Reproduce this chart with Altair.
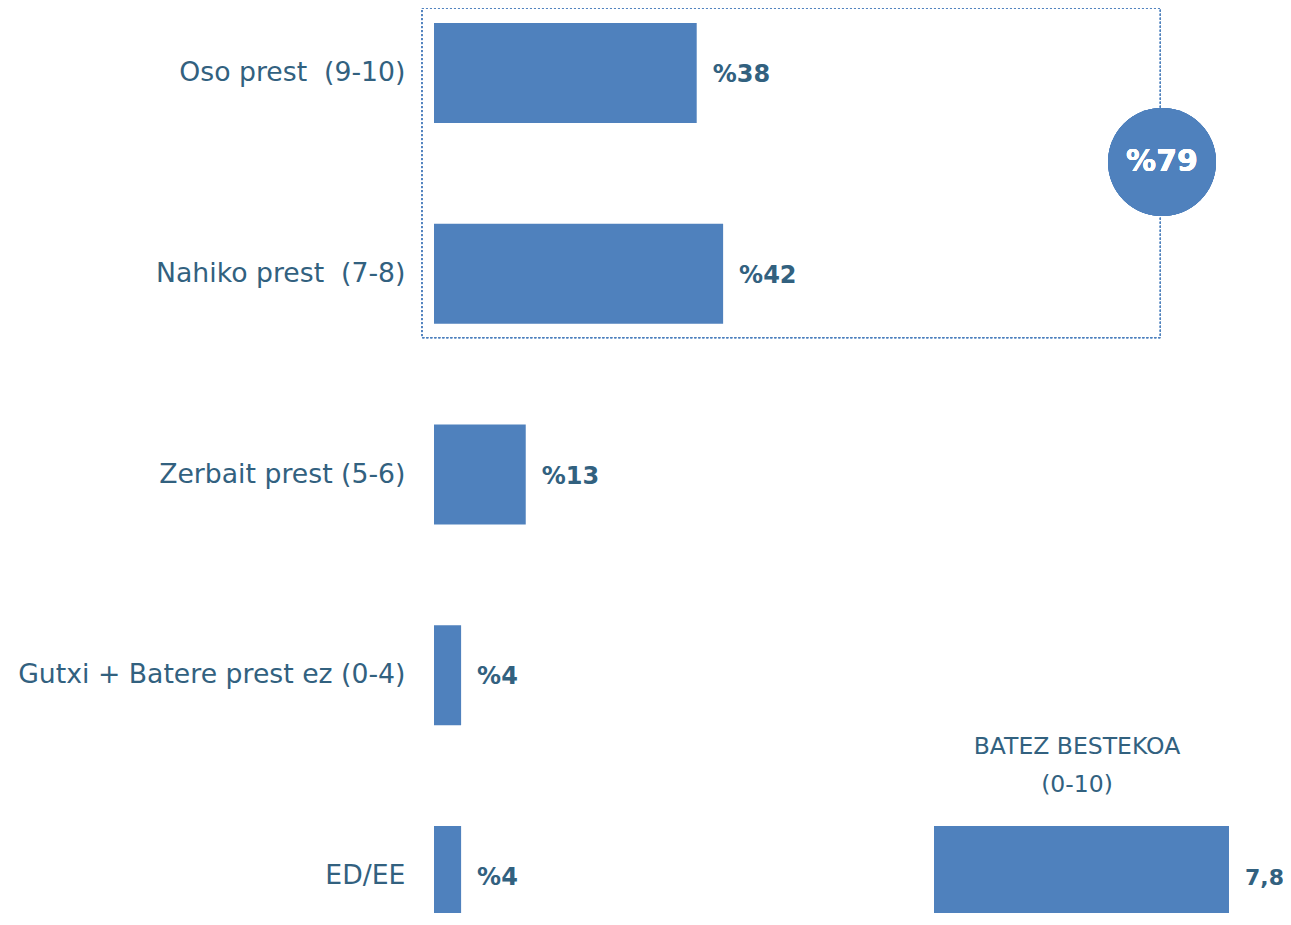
import altair as alt
import pandas as pd

# ---- data ----
categories = ["Oso prest\u00a0 (9-10)", "Nahiko prest\u00a0 (7-8)", "Zerbait prest (5-6)",
              "Gutxi + Batere prest ez (0-4)", "ED/EE"]
values = [37.8, 41.6, 13.2, 3.9, 3.9]
value_labels = ["%38", "%42", "%13", "%4", "%4"]
group_categories = ["Oso prest\u00a0 (9-10)", "Nahiko prest\u00a0 (7-8)"]
group_label = "%79"
mean_category = "ED/EE"
mean_value = [7.8]
mean_labels = ["7,8"]
mean_title = ["BATEZ BESTEKOA", "(0-10)"]

BLUE = "#4F81BD"
TEXT = "#32617F"
FONT = "DejaVu Sans"

df = pd.DataFrame({"cat": categories, "value": values, "label": value_labels})
df_mean = pd.DataFrame({"cat": [mean_category], "mean": mean_value, "label": mean_labels})

yscale = alt.Scale(domain=categories, range=[15, 918], paddingInner=0.5019, paddingOuter=0)
xscale = alt.Scale(domain=[0, 100], range=[0, 695])
mscale = alt.Scale(domain=[0, 10], range=[500, 878.2])

y_main = alt.Y("cat:N", sort=categories, scale=yscale,
               axis=alt.Axis(title=None, domain=False, ticks=False, grid=False,
                             labelFont=FONT, labelFontSize=26.7, labelColor=TEXT,
                             labelPadding=29, labelLimit=0))

box = alt.Chart(df).mark_rect(fill=None, stroke=BLUE, strokeDash=[2, 2], strokeWidth=1,
                              yOffset=-15, y2Offset=14).encode(
    x=alt.datum(-1.73, type="quantitative", scale=xscale, axis=None),
    x2=alt.datum(104.5),
    y=alt.datum(group_categories[0], type="nominal", scale=yscale, bandPosition=0),
    y2=alt.datum(group_categories[1], bandPosition=1),
)

bars = alt.Chart(df).mark_bar(color=BLUE).encode(
    x=alt.X("value:Q", scale=xscale, axis=None),
    y=y_main,
)

labels = alt.Chart(df).mark_text(align="left", baseline="middle", dx=16, dy=2, font=FONT,
                                 fontSize=24, fontWeight="bold", color=TEXT).encode(
    x=alt.X("value:Q", scale=xscale, axis=None),
    y=alt.Y("cat:N", sort=categories, scale=yscale),
    text="label:N",
)

circle = alt.Chart(df).mark_point(shape="circle", filled=True, size=11664, color=BLUE,
                                  opacity=1, yOffset=39).encode(
    x=alt.datum(104.75, type="quantitative", scale=xscale, axis=None),
    y=alt.datum(group_categories[0], type="nominal", scale=yscale, bandPosition=1),
)

circle_text = alt.Chart(df).mark_text(align="center", baseline="middle", dy=39, font=FONT,
                                      fontSize=30, fontWeight="bold", color="white",
                                      text=group_label).encode(
    x=alt.datum(104.75, type="quantitative", scale=xscale, axis=None),
    y=alt.datum(group_categories[0], type="nominal", scale=yscale, bandPosition=1),
)

mean_bar = alt.Chart(df_mean).mark_bar(color=BLUE).encode(
    x=alt.X("mean:Q", scale=mscale, axis=None),
    y=alt.Y("cat:N", sort=categories, scale=yscale),
)
mean_text = alt.Chart(df_mean).mark_text(align="left", baseline="middle", dx=16, dy=2, font=FONT,
                                         fontSize=22, fontWeight="bold", color=TEXT).encode(
    x=alt.X("mean:Q", scale=mscale, axis=None),
    y=alt.Y("cat:N", sort=categories, scale=yscale),
    text="label:N",
)
mean_head = alt.Chart(df_mean).mark_text(align="center", baseline="middle", dy=-79, lineHeight=38,
                                         font=FONT, fontSize=23.5, color=TEXT,
                                         text=mean_title).encode(
    x=alt.datum(3.78, type="quantitative", scale=mscale, axis=None),
    y=alt.datum(mean_category, type="nominal", scale=yscale, bandPosition=0),
)

chart = alt.layer(box, bars, labels, circle, circle_text, mean_bar, mean_text, mean_head
                  ).resolve_scale(x="independent").properties(
    width=849, height=905,
    background="white",
    autosize=alt.AutoSizeParams(type="none"),
    padding={"left": 426, "top": 0, "right": 0, "bottom": 0},
).configure_view(stroke=None).configure_axis(
    domain=False, grid=False, ticks=False
)

chart.save("out.html", embed_options={"renderer": "svg", "actions": False})
